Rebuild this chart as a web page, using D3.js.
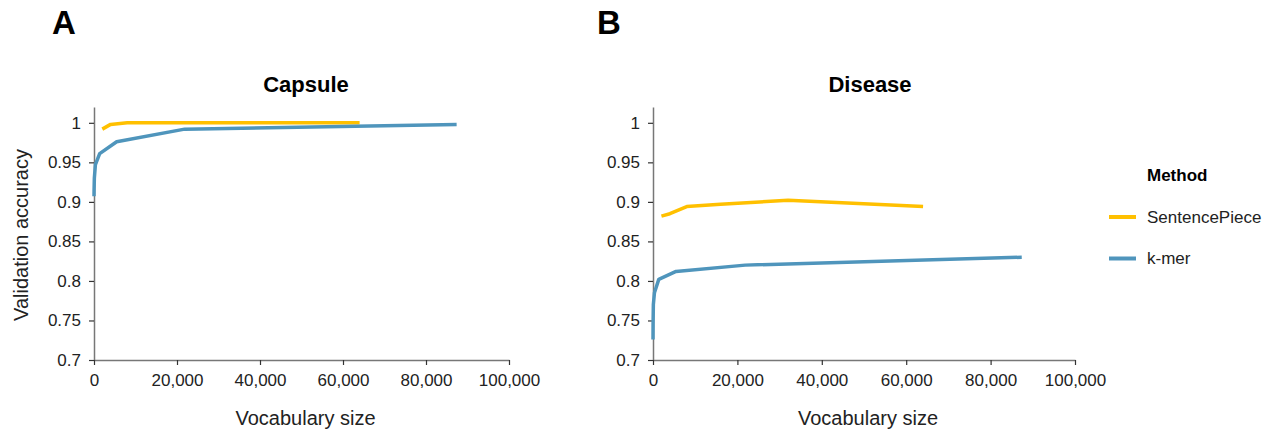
<!DOCTYPE html>
<html>
<head>
<meta charset="utf-8">
<script src="https://cdn.jsdelivr.net/npm/d3@7"></script>
<style>
  html, body { margin: 0; padding: 0; background: #fff; }
  svg { display: block; font-family: "Liberation Sans", Arial, sans-serif; }
</style>
</head>
<body>
<svg id="chart" width="1275" height="439"></svg>
<script>
// ---- data ----
const kmerVocab = [4, 20, 84, 340, 1364, 5460, 21844, 87380];
const spVocab = [2000, 4000, 8000, 16000, 32000, 64000];

const capsuleKmer = [0.907, 0.915, 0.93, 0.947, 0.961, 0.976, 0.992, 0.998];
const capsuleSP = [0.992, 0.998, 1.0, 1.0, 1.0, 1.0];

const diseaseKmer = [0.726, 0.745, 0.77, 0.785, 0.802, 0.812, 0.82, 0.83];
const diseaseSP = [0.882, 0.885, 0.894, 0.897, 0.902, 0.894];

const panelTitles = ["Capsule", "Disease"];
const panelLetters = ["A", "B"];
const methods = ["SentencePiece", "k-mer"];
const methodColors = ["#FFC000", "#4F95BC"];
const yTicks = [0.7, 0.75, 0.8, 0.85, 0.9, 0.95, 1];
const xTicks = [0, 20000, 40000, 60000, 80000, 100000];

// ---- layout ----
const svg = d3.select("#chart");
const panels = [
  { x0: 94, x1: 509, kmer: capsuleKmer, sp: capsuleSP, titleX: 306, letterX: 52 },
  { x0: 653, x1: 1075, kmer: diseaseKmer, sp: diseaseSP, titleX: 870, letterX: 597 }
];
const yTop = 107, yBottom = 360;

const fmtX = d3.format(",");
const fmtY = d => String(+d.toFixed(2));

panels.forEach((p, i) => {
  const x = d3.scaleLinear().domain([0, 100000]).range([p.x0, p.x1]);
  const y = d3.scaleLinear().domain([0.7, 1.02]).range([yBottom, yTop]);

  // panel letter
  svg.append("text").attr("x", p.letterX).attr("y", 34)
    .attr("font-size", 33).attr("font-weight", "bold").attr("fill", "#000")
    .text(panelLetters[i]);

  // title
  svg.append("text").attr("x", p.titleX).attr("y", 92)
    .attr("text-anchor", "middle").attr("font-size", 22).attr("font-weight", "bold")
    .attr("fill", "#000").text(panelTitles[i]);

  // y axis
  const ya = svg.append("g").attr("transform", `translate(${p.x0},0)`)
    .call(d3.axisLeft(y).tickValues(yTicks).tickFormat(fmtY).tickSize(5).tickSizeOuter(0).tickPadding(8));
  ya.select(".domain").attr("stroke", "#777").attr("stroke-width", 1.5);
  ya.selectAll(".tick line").attr("stroke", "#333").attr("stroke-width", 1.2);
  ya.selectAll(".tick text").attr("font-size", 17).attr("fill", "#222")
    .attr("font-family", "Liberation Sans, Arial, sans-serif");

  // x axis
  const xa = svg.append("g").attr("transform", `translate(0,${yBottom})`)
    .call(d3.axisBottom(x).tickValues(xTicks).tickFormat(fmtX).tickSize(5).tickSizeOuter(0).tickPadding(9));
  xa.select(".domain").attr("stroke", "#777").attr("stroke-width", 1.5);
  xa.selectAll(".tick line").attr("stroke", "#333").attr("stroke-width", 1.2);
  xa.selectAll(".tick text").attr("font-size", 17).attr("fill", "#222")
    .attr("font-family", "Liberation Sans, Arial, sans-serif");

  // x axis title
  svg.append("text").attr("x", (p.x0 + p.x1) / 2 + 4).attr("y", 425)
    .attr("text-anchor", "middle").attr("font-size", 20).attr("fill", "#222")
    .text("Vocabulary size");

  // lines
  const line = d3.line().x(d => x(d[0])).y(d => y(d[1]));
  const series = [
    { vocab: spVocab, vals: p.sp, color: methodColors[0] },
    { vocab: kmerVocab, vals: p.kmer, color: methodColors[1] }
  ];
  series.forEach(s => {
    svg.append("path")
      .datum(s.vocab.map((v, j) => [v, s.vals[j]]))
      .attr("d", line)
      .attr("fill", "none")
      .attr("stroke", s.color)
      .attr("stroke-width", 3.5)
      .attr("stroke-linejoin", "round");
  });
});

// y axis title (left panel only)
svg.append("text")
  .attr("transform", "translate(28,235) rotate(-90)")
  .attr("text-anchor", "middle").attr("font-size", 20).attr("fill", "#222")
  .text("Validation accuracy");

// legend
const lg = svg.append("g");
lg.append("text").attr("x", 1147).attr("y", 181)
  .attr("font-size", 17).attr("font-weight", "bold").attr("fill", "#000").text("Method");
methods.forEach((m, i) => {
  const yy = 217 + i * 41.5;
  lg.append("line").attr("x1", 1109).attr("x2", 1136).attr("y1", yy).attr("y2", yy)
    .attr("stroke", methodColors[i]).attr("stroke-width", 4);
  lg.append("text").attr("x", 1147).attr("y", yy).attr("dy", "0.35em")
    .attr("font-size", 17).attr("fill", "#222").text(m);
});
</script>
</body>
</html>
